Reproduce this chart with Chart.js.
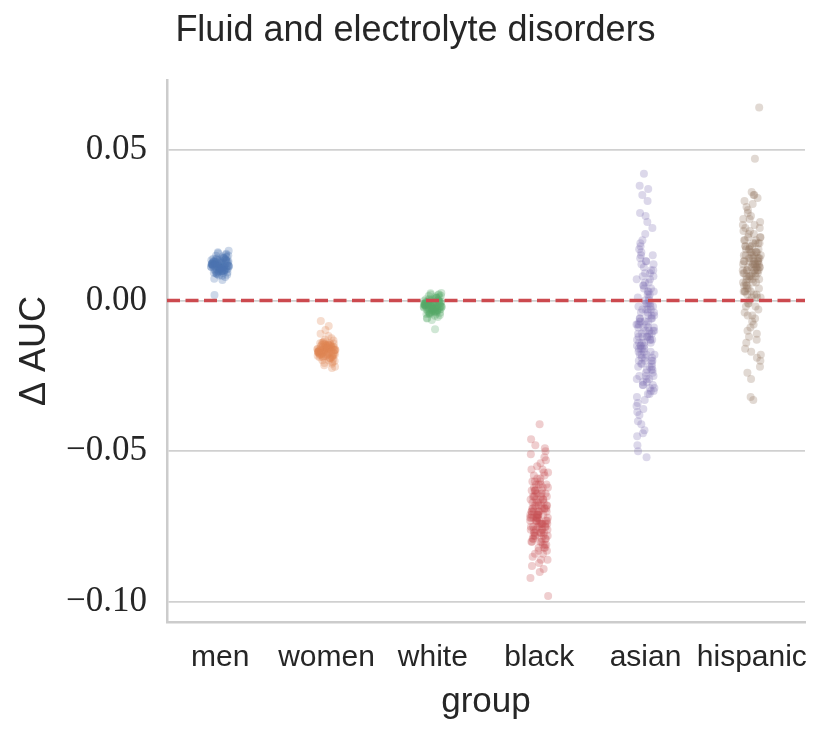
<!DOCTYPE html>
<html>
<head>
<meta charset="utf-8">
<script src="https://cdn.jsdelivr.net/npm/chart.js@4.4.1/dist/chart.umd.min.js"></script>
<style>
  html, body { margin: 0; padding: 0; background: #fff; }
  #chart { display: block; }
</style>
</head>
<body>
<canvas id="chart" width="831" height="734"></canvas>
<script>
// Strip plot: change in AUC per group

const groups = ['men', 'women', 'white', 'black', 'asian', 'hispanic'];
const yTicks = [-0.10, -0.05, 0.00, 0.05];
const refLine = [0];

const menVals = [0.0112, 0.0124, 0.0098, 0.0131, 0.0107, 0.0119, 0.0141, 0.0089, 0.0115, 0.0126, 0.0103, 0.0137, 0.0094, 0.0121, 0.0110, 0.0148, 0.0085, 0.0117, 0.0129, 0.0101, 0.0134, 0.0113, 0.0096, 0.0122, 0.0155, 0.0108, 0.0118, 0.0091, 0.0139, 0.0105, 0.0127, 0.0114, 0.0078, 0.0120, 0.0133, 0.0099, 0.0116, 0.0144, 0.0102, 0.0125, 0.0111, 0.0087, 0.0130, 0.0106, 0.0119, 0.0152, 0.0097, 0.0123, 0.0109, 0.0136, 0.0093, 0.0117, 0.0128, 0.0104, 0.0160, 0.0114, 0.0082, 0.0121, 0.0132, 0.0100, 0.0118, 0.0142, 0.0095, 0.0126, 0.0110, 0.0072, 0.0135, 0.0107, 0.0120, 0.0146, 0.0090, 0.0124, 0.0112, 0.0138, 0.0101, 0.0116, 0.0165, 0.0098, 0.0129, 0.0108, 0.0083, 0.0122, 0.0140, 0.0104, 0.0115, 0.0131, 0.0092, 0.0119, 0.0157, 0.0111, 0.0068, 0.0127, 0.0103, 0.0135, 0.0113, 0.0096, 0.0123, 0.0149, 0.0106, 0.0018];

const womenVals = [-0.0162, -0.0175, -0.0148, -0.0183, -0.0157, -0.0169, -0.0191, -0.0139, -0.0165, -0.0178, -0.0152, -0.0187, -0.0144, -0.0171, -0.0160, -0.0198, -0.0133, -0.0167, -0.0180, -0.0150, -0.0185, -0.0163, -0.0146, -0.0173, -0.0205, -0.0158, -0.0168, -0.0141, -0.0189, -0.0155, -0.0177, -0.0164, -0.0125, -0.0170, -0.0183, -0.0149, -0.0166, -0.0194, -0.0152, -0.0175, -0.0161, -0.0137, -0.0180, -0.0156, -0.0169, -0.0210, -0.0147, -0.0173, -0.0159, -0.0186, -0.0143, -0.0167, -0.0178, -0.0154, -0.0215, -0.0164, -0.0118, -0.0171, -0.0182, -0.0150, -0.0168, -0.0192, -0.0145, -0.0176, -0.0160, -0.0110, -0.0185, -0.0157, -0.0170, -0.0199, -0.0140, -0.0174, -0.0162, -0.0188, -0.0151, -0.0166, -0.0220, -0.0148, -0.0179, -0.0158, -0.0098, -0.0172, -0.0190, -0.0154, -0.0165, -0.0181, -0.0142, -0.0169, -0.0207, -0.0161, -0.0085, -0.0177, -0.0153, -0.0184, -0.0163, -0.0146, -0.0173, -0.0201, -0.0156, -0.0068, -0.0224, -0.0130];

const whiteVals = [-0.0021, -0.0010, -0.0035, -0.0003, -0.0027, -0.0015, 0.0008, -0.0042, -0.0019, -0.0008, -0.0031, 0.0002, -0.0039, -0.0013, -0.0024, 0.0015, -0.0048, -0.0017, -0.0005, -0.0033, -0.0001, -0.0022, -0.0038, -0.0011, 0.0021, -0.0026, -0.0016, -0.0044, 0.0005, -0.0029, -0.0007, -0.0020, -0.0055, -0.0014, -0.0002, -0.0036, -0.0018, 0.0011, -0.0032, -0.0009, -0.0023, -0.0046, -0.0004, -0.0028, -0.0015, 0.0018, -0.0037, -0.0012, -0.0025, 0.0001, -0.0041, -0.0017, -0.0006, -0.0030, 0.0024, -0.0021, -0.0051, -0.0013, -0.0003, -0.0034, -0.0016, 0.0009, -0.0040, -0.0008, -0.0024, -0.0060, 0.0000, -0.0027, -0.0014, 0.0013, -0.0043, -0.0010, -0.0022, 0.0004, -0.0033, -0.0018, 0.0025, -0.0036, -0.0005, -0.0026, -0.0065, -0.0012, 0.0007, -0.0030, -0.0019, -0.0002, -0.0045, -0.0015, 0.0020, -0.0023, -0.0095, -0.0007, -0.0031, 0.0003, -0.0020, -0.0038, -0.0011, 0.0016, -0.0028, -0.0058];

const blackVals = [-0.072, -0.068, -0.077, -0.064, -0.075, -0.070, -0.081, -0.061, -0.073, -0.066, -0.079, -0.058, -0.071, -0.076, -0.063, -0.084, -0.069, -0.074, -0.060, -0.078, -0.067, -0.072, -0.086, -0.062, -0.075, -0.070, -0.080, -0.056, -0.073, -0.065, -0.077, -0.069, -0.082, -0.059, -0.071, -0.074, -0.063, -0.079, -0.068, -0.088, -0.066, -0.072, -0.076, -0.054, -0.070, -0.081, -0.064, -0.075, -0.069, -0.078, -0.061, -0.073, -0.085, -0.067, -0.071, -0.057, -0.077, -0.065, -0.074, -0.083, -0.070, -0.062, -0.076, -0.068, -0.080, -0.072, -0.052, -0.075, -0.066, -0.079, -0.060, -0.073, -0.087, -0.069, -0.071, -0.064, -0.078, -0.074, -0.058, -0.082, -0.067, -0.072, -0.076, -0.063, -0.070, -0.090, -0.065, -0.077, -0.055, -0.073, -0.080, -0.068, -0.075, -0.061, -0.071, -0.084, -0.066, -0.074, -0.059, -0.078, -0.069, -0.072, -0.051, -0.076, -0.063, -0.081, -0.070, -0.067, -0.089, -0.073, -0.062, -0.077, -0.065, -0.079, -0.071, -0.056, -0.074, -0.068, -0.083, -0.060, -0.075, -0.069, -0.072, -0.092, -0.064, -0.078, -0.053, -0.070, -0.080, -0.066, -0.073, -0.086, -0.061, -0.076, -0.049, -0.071, -0.046, -0.074, -0.048, -0.068, -0.041, -0.079, -0.057, -0.072, -0.098, -0.065, -0.077, -0.050, -0.082, -0.063];

const asianVals = [-0.008, 0.002, -0.015, -0.021, 0.006, -0.011, -0.026, -0.003, 0.012, -0.018, -0.006, -0.030, 0.004, -0.013, -0.009, 0.016, -0.023, -0.001, -0.016, 0.009, -0.028, -0.005, -0.012, 0.019, -0.020, -0.007, -0.034, 0.001, -0.014, -0.010, 0.013, -0.025, -0.002, -0.017, 0.007, -0.031, -0.004, -0.019, 0.022, -0.009, -0.022, -0.012, 0.003, -0.027, -0.006, 0.010, -0.015, -0.037, -0.001, -0.018, 0.015, -0.024, -0.008, -0.013, 0.005, -0.029, -0.003, 0.018, -0.011, -0.020, -0.040, 0.000, -0.016, 0.008, -0.026, -0.007, -0.014, 0.011, -0.032, -0.005, -0.021, 0.024, -0.010, -0.017, 0.002, -0.028, -0.004, -0.012, 0.014, -0.023, -0.043, -0.008, 0.006, -0.019, -0.002, -0.025, 0.017, -0.013, -0.009, -0.035, 0.003, -0.016, -0.006, 0.009, -0.022, -0.011, 0.020, -0.030, -0.001, -0.018, 0.004, -0.014, -0.045, -0.007, 0.012, -0.024, -0.003, -0.020, 0.007, -0.027, -0.010, 0.026, -0.015, -0.005, -0.033, 0.001, -0.012, -0.021, 0.010, -0.008, -0.038, -0.017, 0.005, -0.026, -0.004, 0.015, -0.013, -0.019, -0.002, -0.031, 0.008, -0.009, -0.023, 0.029, -0.006, -0.016, -0.048, 0.003, -0.011, -0.028, 0.013, -0.014, -0.001, -0.036, -0.018, 0.033, -0.007, -0.022, 0.000, -0.050, -0.010, 0.035, -0.025, -0.052, 0.038, -0.003, 0.042, -0.015, 0.037, -0.041, -0.020, 0.028, -0.012, -0.029, -0.044];

const hispanicVals = [0.010, 0.015, 0.004, 0.019, 0.008, 0.013, -0.002, 0.022, 0.011, 0.006, 0.017, 0.001, 0.014, 0.009, 0.025, -0.005, 0.012, 0.018, 0.003, 0.016, 0.007, 0.021, -0.008, 0.010, 0.014, 0.028, 0.005, 0.012, -0.001, 0.019, 0.009, 0.015, -0.011, 0.023, 0.006, 0.013, 0.002, 0.017, 0.011, -0.004, 0.020, 0.008, 0.026, 0.014, -0.014, 0.010, 0.016, 0.003, 0.012, 0.030, 0.007, -0.007, 0.018, 0.011, 0.000, 0.015, 0.022, 0.005, 0.013, -0.017, 0.009, 0.019, 0.004, 0.024, 0.012, -0.002, 0.016, 0.008, 0.027, 0.010, -0.010, 0.014, 0.001, 0.020, 0.006, 0.017, -0.020, 0.012, 0.031, 0.009, 0.003, 0.015, -0.006, 0.021, 0.011, 0.007, 0.018, -0.013, 0.013, 0.025, 0.002, 0.010, -0.003, 0.016, 0.033, 0.008, 0.014, -0.022, 0.019, 0.005, 0.012, -0.009, 0.023, 0.010, 0.029, 0.004, 0.015, -0.016, 0.011, 0.017, 0.001, 0.035, 0.007, 0.013, -0.026, 0.020, 0.009, -0.001, 0.014, 0.032, 0.006, -0.019, 0.018, 0.012, 0.035, -0.024, 0.010, 0.036, 0.003, 0.016, -0.012, 0.021, -0.033, 0.008, 0.034, -0.032, 0.013, 0.047, 0.011, 0.064, -0.005, 0.024, 0.002, 0.027, -0.018];

const seriesVals = [menVals, womenVals, whiteVals, blackVals, asianVals, hispanicVals];
const colors = ['76,114,176', '221,132,82', '85,168,104', '196,78,82', '129,114,179', '147,120,96'];

// horizontal spread of the strip, in category units
const JITTER = 0.085;
function jitter(i) {
    return ((i * 0.6180339887) % 1 - 0.5) * 2 * JITTER;
}

const textColor = '#262626';
const sansFont = '"Liberation Sans", Arial, sans-serif';
const serifFont = '"Liberation Serif", "Times New Roman", serif';

const datasets = seriesVals.map((vals, g) => ({
    type: 'scatter',
    label: groups[g],
    data: vals.map((v, i) => ({ x: g + jitter(i), y: v })),
    backgroundColor: 'rgba(' + colors[g] + ',0.28)',
    borderWidth: 0,
    pointRadius: 4,
    order: 1
}));

datasets.push({
    type: 'line',
    label: 'zero',
    data: [{ x: -0.5, y: refLine[0] }, { x: groups.length - 0.5, y: refLine[0] }],
    borderColor: '#cc4a4f',
    borderWidth: 3.5,
    borderDash: [13, 5.5],
    pointRadius: 0,
    fill: false,
    order: 0
});

new Chart(document.getElementById('chart'), {
    data: { datasets },
    options: {
        responsive: false,
        animation: false,
        devicePixelRatio: 1,
        layout: { padding: { left: 26, right: 26, top: 0, bottom: 0 } },
        plugins: {
            legend: { display: false },
            tooltip: { enabled: false },
            title: {
                display: true,
                text: 'Fluid and electrolyte disorders',
                color: textColor,
                font: { family: sansFont, size: 36, weight: 'normal' },
                padding: { top: 9, bottom: 27.8 }
            }
        },
        scales: {
            x: {
                type: 'linear',
                min: -0.5,
                max: groups.length - 0.5,
                afterBuildTicks: scale => {
                    scale.ticks = groups.map((_, i) => ({ value: i }));
                },
                afterFit: scale => { scale.height = 112; },
                grid: { display: false, drawTicks: false },
                border: { display: true, color: '#cccccc', width: 2.5 },
                ticks: {
                    color: textColor,
                    padding: 18,
                    autoSkip: false,
                    maxRotation: 0,
                    font: { family: sansFont, size: 30 },
                    callback: v => groups[v]
                },
                title: {
                    display: true,
                    text: 'group',
                    color: textColor,
                    font: { family: sansFont, size: 35 },
                    padding: { top: 0, bottom: 11 }
                }
            },
            y: {
                type: 'linear',
                min: -0.1066,
                max: 0.0731,
                afterBuildTicks: scale => {
                    scale.ticks = yTicks.map(v => ({ value: v }));
                },
                afterFit: scale => { scale.width = 141; },
                grid: { color: '#d0d0d0', lineWidth: 1.8, drawTicks: false },
                border: { display: true, color: '#cccccc', width: 2.5 },
                ticks: {
                    color: textColor,
                    padding: 20,
                    font: { family: serifFont, size: 35 },
                    callback: v => (v < 0 ? '\u2212' : '') + Math.abs(v).toFixed(2)
                },
                title: {
                    display: true,
                    text: '\u0394 AUC',
                    color: textColor,
                    font: { family: sansFont, size: 36 },
                    padding: { top: -13, bottom: 0 }
                }
            }
        }
    }
});
</script>
</body>
</html>
